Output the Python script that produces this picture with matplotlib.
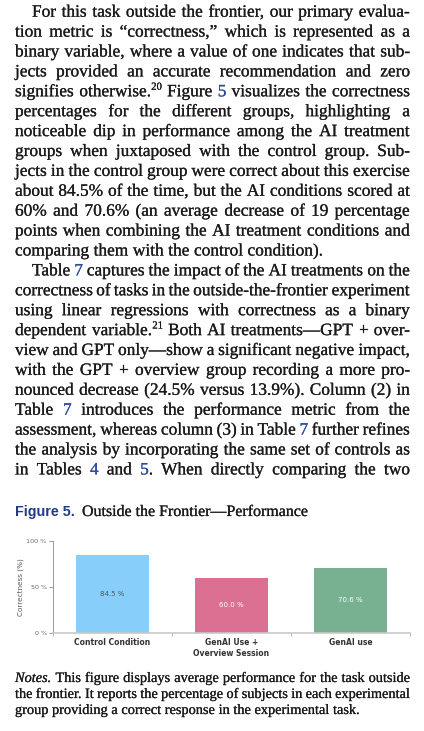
import matplotlib
matplotlib.use('Agg')
import matplotlib.pyplot as plt
import matplotlib.patheffects as pe

# ---------------- data ----------------
categories = ['Control Condition', 'GenAI Use +\nOverview Session', 'GenAI use']
correctness = [84.5, 60.0, 70.6]
yticks = [0, 50, 100]
ytick_labels = ['0 %', '50 %', '100 %']
bar_colors = ['#87CEFA', '#DC7093', '#78B192']
value_label_colors = ['#555555', '#ffffff', '#ffffff']

# markup: tokens split by '|' into segments; '@' = link blue, '^' = superscript, '~' = italic
body_lines = [
    "For this task outside the frontier, our primary evalua-",
    "tion metric is “correctness,” which is represented as a",
    "binary variable, where a value of one indicates that sub-",
    "jects provided an accurate recommendation and zero",
    "signifies otherwise.|^20 Figure @5 visualizes the correctness",
    "percentages for the different groups, highlighting a",
    "noticeable dip in performance among the AI treatment",
    "groups when juxtaposed with the control group. Sub-",
    "jects in the control group were correct about this exercise",
    "about 84.5% of the time, but the AI conditions scored at",
    "60% and 70.6% (an average decrease of 19 percentage",
    "points when combining the AI treatment conditions and",
    "comparing them with the control condition).",
    "Table @7 captures the impact of the AI treatments on the",
    "correctness of tasks in the outside-the-frontier experiment",
    "using linear regressions with correctness as a binary",
    "dependent variable.|^21 Both AI treatments—GPT + over-",
    "view and GPT only—show a significant negative impact,",
    "with the GPT + overview group recording a more pro-",
    "nounced decrease (24.5% versus 13.9%). Column (2) in",
    "Table @7 introduces the performance metric from the",
    "assessment, whereas column (3) in Table @7 further refines",
    "the analysis by incorporating the same set of controls as",
    "in Tables @4 and @5|. When directly comparing the two",
]
body_para_starts = [0, 13]
body_unjustified = [12]

notes_lines = [
    "~Notes. This figure displays average performance for the task outside",
    "the frontier. It reports the percentage of subjects in each experimental",
    "group providing a correct response in the experimental task.",
]
notes_unjustified = [2]

caption_label = "Figure 5."
caption_title = "Outside the Frontier—Performance"

# ---------------- page setup ----------------
W, H = 424, 731
fig = plt.figure(figsize=(W / 100, H / 100), dpi=100)
renderer = fig.canvas.get_renderer()

SERIF = 'Liberation Serif'
TEXT_COLOR = '#1a1a1a'
LINK_BLUE = '#2c4c9c'
STROKE = 0.15


def fx(x):
    return x / W


def fy(y):
    return 1 - y / H


def parse(tok):
    segs = []
    for s in tok.split('|'):
        style = 'n'
        if s and s[0] in '@^~':
            style, s = s[0], s[1:]
        segs.append((s, style))
    return segs


def seg_props(style, size):
    p = dict(fontfamily=SERIF, fontsize=size, color=TEXT_COLOR)
    if style == '@':
        p['color'] = LINK_BLUE
    if style == '^':
        p['fontsize'] = size * 0.62
    if style == '~':
        p['fontstyle'] = 'italic'
    return p


def draw_token(x, y, tok, size, draw=True):
    cx = x
    for s, st in parse(tok):
        dy = size * 100 / 72 * 0.38 if st == '^' else 0
        props = seg_props(st, size)
        t = fig.text(fx(cx), fy(y - dy), s, va='baseline', ha='left', **props)
        cx += t.get_window_extent(renderer).width
        if not draw:
            t.remove()
        else:
            t.set_path_effects([pe.withStroke(linewidth=STROKE, foreground=props['color'])])
    return cx - x


def measure(tok, size):
    return draw_token(0, 0, tok, size, draw=False)


def space_width(size):
    return measure('a a', size) - measure('aa', size)


def layout_block(lines, para_starts, unjustified, x_left, x_right, y0, lead, base, indent, boost):
    inds = [indent if i in para_starts else 0 for i in range(len(lines))]
    sp0 = space_width(base)
    ratios = []
    for i, line in enumerate(lines):
        if i in unjustified:
            continue
        ws = [measure(t, base) for t in line.split(' ')]
        nat = sum(ws) + sp0 * (len(ws) - 1)
        ratios.append((x_right - x_left - inds[i]) / nat)
    size = base * min(ratios) * boost
    sp = space_width(size)
    for i, line in enumerate(lines):
        toks = line.split(' ')
        ws = [measure(t, size) for t in toks]
        avail = x_right - x_left - inds[i]
        if i not in unjustified and len(ws) > 1:
            gap = (avail - sum(ws)) / (len(ws) - 1)
        else:
            gap = sp
        x = x_left + inds[i]
        y = y0 + i * lead
        for t, w in zip(toks, ws):
            draw_token(x, y, t, size)
            x += w + gap
    return size


# body text
layout_block(body_lines, body_para_starts, body_unjustified,
             15, 410, 16.7, 19.9, 12, 17, 1.012)


# caption
def fit_text(x, y, text, width, **props):
    t = fig.text(fx(x), fy(y), text, va='baseline', ha='left', fontsize=10, **props)
    w = t.get_window_extent(renderer).width
    t.set_fontsize(10 * width / w)
    return t


fit_text(15, 516, caption_label, 60, fontfamily='Liberation Sans', fontweight='bold', color='#1f3b87')
ct = fit_text(82, 516, caption_title, 226, fontfamily=SERIF, color=TEXT_COLOR)
ct.set_path_effects([pe.withStroke(linewidth=STROKE, foreground=TEXT_COLOR)])

# notes
layout_block(notes_lines, [], notes_unjustified, 15, 410, 682, 16, 10, 0, 1.005)

# ---------------- chart ----------------
ax = fig.add_axes([53 / W, (H - 632.7) / H, 357 / W, 92 / H])
xpos = list(range(len(categories)))
bars = ax.bar(xpos, correctness, width=0.62, color=bar_colors, zorder=2)
ax.set_xlim(-0.5, len(categories) - 0.5)
ax.set_ylim(0, 100)
ax.set_yticks(yticks)
ax.set_yticklabels(ytick_labels, fontsize=4.6, color='#666666', fontfamily='DejaVu Sans')
ax.tick_params(axis='y', length=3, width=0.6, color='#888888', pad=1.5)
ax.set_xticks(xpos)
ax.set_xticklabels(categories, fontsize=5.5, fontweight='bold', color='#333333',
                   fontfamily='DejaVu Sans', linespacing=1.3)
ax.tick_params(axis='x', which='major', length=0, pad=4)
ax.set_xticks([p - 0.5 for p in xpos] + [xpos[-1] + 0.5], minor=True)
ax.tick_params(axis='x', which='minor', length=2, width=0.6, color='#aaaaaa')
for s in ['top', 'right']:
    ax.spines[s].set_visible(False)
ax.spines['left'].set_color('#888888')
ax.spines['left'].set_linewidth(0.6)
ax.spines['bottom'].set_color('#c8c8c8')
ax.spines['bottom'].set_linewidth(1.2)
ax.set_ylabel('Correctness (%)', fontsize=5.2, color='#555555', fontfamily='DejaVu Sans')
ax.yaxis.set_label_coords(-(53 - 24) / 357, 0.5)
vlabels = ax.bar_label(bars, labels=[f'{v:.1f} %' for v in correctness],
                       label_type='center', fontsize=5.0, fontfamily='DejaVu Sans')
for t, c in zip(vlabels, value_label_colors):
    t.set_color(c)

fig.savefig('out.png', dpi=100)
